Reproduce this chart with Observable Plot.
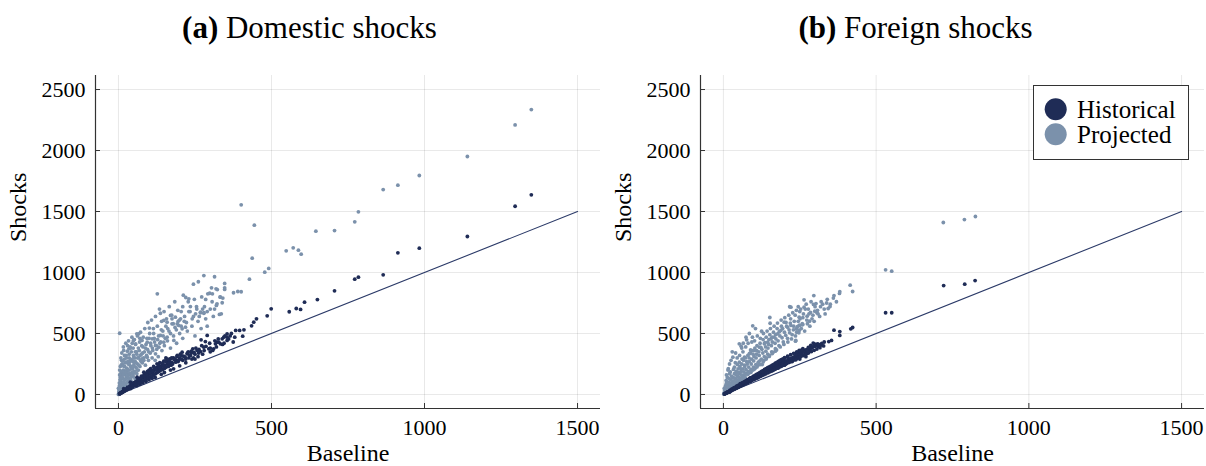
<!DOCTYPE html>
<html><head><meta charset="utf-8">
<script src="https://cdn.jsdelivr.net/npm/d3@7"></script>
<script src="https://cdn.jsdelivr.net/npm/@observablehq/plot@0.6"></script>
<style>
body{margin:0;background:#fff;}
#root{position:relative;width:1206px;height:466px;overflow:hidden;font-family:"Liberation Serif",serif;color:#000;}
.title{position:absolute;top:10px;width:603px;text-align:center;font-size:31px;white-space:nowrap;}
.panel{position:absolute;top:60px;}
#legend{position:absolute;left:1033px;top:85px;width:154px;height:73px;border:1px solid #333;background:#fff;}
</style></head><body>
<div id="root">
  <div class="title" style="left:0;padding-left:16px;box-sizing:border-box;"><b>(a)</b> Domestic shocks</div>
  <div class="title" style="left:603px;padding-left:22px;box-sizing:border-box;"><b>(b)</b> Foreign shocks</div>
  <div class="panel" id="pa" style="left:0"></div>
  <div class="panel" id="pb" style="left:603px"></div>
  <div id="legend"></div>
</div>
<script>
const seriesNames = ["Historical", "Projected"];
const histColor = "#1f2c56";
const projColor = "#7b91ab";
const xTicks = [0, 500, 1000, 1500];
const yTicks = [0, 500, 1000, 1500, 2000, 2500];
const xDomain = [-75, 1575];
const yDomain = [-115, 2615];
const diagX = [0, 1500];
const diagY = [0, 1500];

// (a) Domestic shocks — historical [baseline, shocks]
const domHist = [
[1349,1637],[1296,1543],[1140,1295],[983,1199],[913,1161],[865,981],[784,962],[772,945],[706,850],[650,778],
[608,757],[595,697],[581,705],[558,678],[499,702],[486,645],[451,620],[442,593],[435,563],[410,530],
[406,478],[396,525],[383,525],[355,497],[355,470],[355,443],[344,470],[339,456],[333,415],[328,429],
[322,429],[317,415],[311,374],[308,361],[295,374],[290,484],[284,434],[279,388],[270,448],[268,352],
[257,361],[243,374],[224,333],[208,347],[192,320],[170,293],[148,273],[126,251],[105,211],[83,183],
[61,142],[39,101],[17,47],
[230,300],[235,320],[240,290],[250,330],[260,310],[262,340],[275,330],[280,360],[300,380],[300,350],
[320,390],[340,410],[345,420],[360,455],[365,480],[375,430],[380,470],[200,300],[210,280],[215,310],
[190,280],[180,300],[175,260],[160,250],[165,280],[150,240],[155,300],[140,230],[135,260],[130,210],
[120,200],[115,230],[110,180],[100,170],[100,200],[95,190],[90,150],[85,165],[80,140],[75,150],
[70,120],[65,130],[60,110],[55,100],[50,85],[50,95],[45,80],[40,70],[35,60],[30,50],
[30,60],[25,40],[20,35],[15,25],[10,18],[8,12],[5,8],[3,5],[12,20],[22,38],
[28,48],[33,55],[42,75],[48,90],[52,80],[58,95],[62,105],[68,115],[72,130],[78,135],
[82,150],[88,160],[92,170],[98,165],[105,185],[112,195],[118,210],[125,220],[128,200],[132,240],
[138,225],[145,250],[152,230],[158,265],[168,270],[172,240],[185,290],[195,270],[205,320],[220,290],
[228,350],[238,340],[245,300],[100,120],[150,180],[200,235],[250,290],[120,140],[180,210],[60,72],
[40,48],[80,95],[140,165],[170,200],[220,260],[90,108],[110,132],[70,84],
[4,6],[6,10],[7,9],[9,14],[11,17],[13,18],[14,24],[16,22],[18,30],[19,27],
[21,36],[23,32],[24,42],[26,38],[27,46],[29,40],[31,54],[32,45],[34,58],[36,50],
[37,66],[39,55],[41,72],[43,60],[44,78],[46,64],[47,84],[49,70],[51,92],[53,74],
[54,98],[56,78],[57,104],[59,82],[63,114],[64,88],[66,120],[67,95],[71,126],[73,100],
[74,138],[76,105],[77,144],[79,110],[84,155],[86,118],[87,148],[89,125],[91,172],[93,130],
[94,158],[96,140],[101,185],[103,140],[104,176],[107,150],[109,200],[111,155],[113,190],[116,165],
[119,215],[121,170],[123,205],[127,180],[131,235],[133,190],[136,220],[139,200],[142,255],[144,205],
[147,235],[151,215],[153,275],[156,225],[161,290],[163,230],[166,255],[171,245],[174,300],[177,250],
[182,285],[187,265],[191,310],[197,280],[202,330],[206,290],[212,315],[218,305],[226,340],[232,320],
[238,355],[247,345],[253,380],[263,370],[272,400],[286,395],[298,420],[315,440],[326,455],[348,480],
[369,500]
];
// (a) Domestic shocks — projected
const domProj = [
[1349,2336],[1296,2210],[1140,1951],[983,1795],[913,1716],[865,1680],[784,1497],[772,1415],[706,1344],[645,1339],
[401,1555],[444,1388],[437,1117],[548,1178],[571,1202],[588,1183],[597,1150],[491,1033],[478,1003],[428,945],
[401,842],[390,844],[376,834],[347,910],[347,874],[347,861],[314,965],[279,975],[261,924],[245,904],
[304,874],[319,866],[292,825],[307,825],[333,798],[212,814],[220,795],[230,784],[127,825],[285,779],
[339,752],[322,743],[320,730],[341,790],[336,661],[330,656],[268,670],[279,670],
[235,721],[252,661],[268,675],[279,666],[137,666],[170,648],[186,634],[203,620],[192,579],[197,566],
[208,538],[219,552],[175,579],[159,593],[148,607],[101,544],[66,497],[137,484],[110,456],[94,429],
[77,443],[56,415],[34,374],[4,502],[12,251],[28,265],[50,265],[77,292],[94,306],[121,333],
[132,388],[148,429],[121,402],[159,470],[181,443],
[2,10],[3,30],[4,50],[5,80],[6,20],[8,60],[8,110],[10,40],[10,150],[12,90],
[12,180],[14,70],[15,130],[16,200],[18,50],[18,100],[20,160],[20,230],[22,80],[22,120],
[24,190],[25,60],[26,140],[28,210],[30,100],[30,170],[32,250],[34,130],[35,200],[36,80],
[38,160],[40,230],[40,120],[42,280],[44,180],[45,100],[46,210],[48,150],[50,300],[50,240],
[52,190],[54,130],[55,270],[58,220],[60,170],[60,330],[62,250],[65,200],[66,300],[68,360],
[70,230],[72,280],[75,330],[78,260],[80,390],[82,300],[85,350],[88,240],[90,410],[92,320],
[95,370],[98,280],[100,460],[104,340],[106,400],[110,300],[112,360],[115,500],[118,430],[120,280],
[125,370],[128,450],[130,310],[135,420],[140,530],[142,360],[146,480],[150,400],[155,560],[160,440],
[165,520],[170,380],[175,620],[180,480],[185,550],[190,420],[195,600],[200,500],[205,680],[210,460],
[215,600],[225,520],[230,680],[240,560],[245,640],[250,480],[255,720],[260,600],[270,540],[275,700],
[285,620],[290,560],[300,700],[310,640],[1,5],[2,40],[3,70],[1,20],[0,0],[5,120],
[7,170],[4,200],[9,240],[0,50],[17,361],[30,400],[49,443],[60,497],[40,380],[25,320],
[10,280],[45,420],[70,460],[35,300],[55,350],[20,290],[6,140],[14,240],[26,190],[38,270],
[2,15],[3,95],[4,160],[5,45],[6,230],[7,120],[8,300],[9,75],[10,190],[11,340],
[12,140],[13,60],[14,275],[15,95],[16,390],[17,165],[18,230],[19,120],[20,320],[21,75],
[22,260],[23,180],[24,420],[25,130],[26,300],[27,215],[28,95],[29,355],[30,150],[31,270],
[32,200],[33,440],[34,115],[35,330],[36,245],[37,170],[38,390],[39,290],[41,140],[42,350],
[43,210],[44,470],[46,275],[47,165],[48,380],[49,320],[51,230],[52,450],[53,180],[54,300],
[56,410],[57,260],[59,350],[61,200],[62,480],[63,300],[65,380],[67,240],[69,430],[71,320],
[72,510],[74,270],[76,400],[79,340],[81,470],[83,280],[86,540],[88,380],[91,310],[93,460],
[96,590],[99,350],[102,500],[105,420],[108,610],[111,380],[114,540],[117,460],[121,640],[124,400],
[127,560],[131,480],[134,700],[138,430],[141,600],[145,520],[149,680],[153,460],[157,620],[161,540],
[166,720],[170,500],[174,650],[179,580],[184,760],[189,530],[194,690],[199,610],[205,560],[210,720],
[216,640],[222,590],[228,760],[234,680],[241,620],[248,780],[256,700],[264,640],[272,800],[281,720],
[290,680],[298,830],[306,760],[314,700],[323,860],[332,800]
];
// (b) Foreign shocks — historical
const forHist = [
[721,893],[790,904],[824,934],[531,670],[551,670],[417,538],[423,549],[381,516],[381,484],[362,527],
[354,443],[345,434],[308,415],[300,410],[294,421],[286,402],[282,374],[273,339],[264,355],[254,361],
[248,347],[243,339],[237,284],[281,361],[276,339],[264,361],[248,361],[238,339],[221,293],[210,306],
[199,279],[188,265],[178,251],[166,238],[156,224],[145,197],[134,183],[123,170],[112,156],[101,142],
[85,120],[69,101],[52,74],[36,47],[20,19],
[230,300],[225,270],[215,280],[205,260],[200,240],[195,265],[185,240],[180,220],[175,230],[170,210],
[165,225],[160,200],[155,205],[150,190],[148,215],[140,180],[138,200],[130,165],[128,185],[120,150],
[118,172],[110,140],[108,160],[100,125],[98,148],[95,130],[90,115],[88,135],[80,100],[78,118],
[75,95],[72,110],[65,85],[62,95],[58,75],[55,88],[50,65],[48,75],[45,58],[42,66],
[38,50],[35,55],[30,40],[28,45],[25,33],[22,35],[18,24],[15,22],[12,16],[10,14],
[8,11],[5,7],[3,4],[255,330],[260,320],[268,345],[270,310],[245,320],[240,300],[250,290],
[235,310],[228,285],[190,250],[212,268],[162,212],[142,190],[125,160],[105,135],[92,122],[68,90],
[40,55],[32,42],[270,365],[290,380],[300,395],[310,395],[320,405],[330,430],[260,375],
[4,5],[6,8],[7,9],[9,12],[11,13],[13,17],[14,19],[16,20],[17,23],[19,25],
[21,27],[23,31],[24,29],[26,35],[27,33],[29,38],[31,41],[33,40],[34,46],[37,45],
[39,52],[41,50],[43,59],[44,53],[46,62],[49,60],[51,70],[53,66],[54,72],[57,70],
[59,80],[61,76],[63,85],[64,78],[66,90],[69,86],[71,96],[73,90],[76,102],[79,96],
[81,110],[83,104],[86,115],[89,108],[91,124],[93,116],[96,128],[99,121],[102,138],[104,128],
[107,145],[111,135],[113,152],[116,142],[119,160],[122,150],[124,168],[127,156],[131,176],[133,162],
[136,184],[139,170],[143,193],[146,178],[149,200],[152,186],[154,210],[158,192],[161,218],[163,198],
[167,226],[169,206],[172,232],[177,216],[179,242],[182,222],[186,250],[189,230],[192,258],[194,238],
[197,266],[202,246],[204,274],[207,254],[211,282],[214,262],[217,290],[219,268],[222,298],[226,276],
[229,306],[232,284],[236,316],[239,292],[242,324],[246,302],[249,332],[252,310],[256,342],[259,318],
[263,350],[266,326],[272,334],[275,368],[279,342],[284,376],[288,352],[292,390],[297,362],[302,400],
[306,372],[312,410],[316,384],[322,418],[328,398],
[60,90],[70,105],[80,121],[90,136],[100,151],[110,167],[120,181],[130,196],[140,211],[150,226],
[160,241],[170,256],[180,271],[190,286],[200,301],[210,314],[220,326],[230,337],[240,348],[250,357],
[195,291],[175,263],[155,233],[135,205],[115,173],[95,143],[75,113],[55,83],[35,53],[185,279],
[165,247],[145,219],[125,189],[105,159],[85,129],[65,99],[45,69],[258,365],[278,385],[298,412]
];
// (b) Foreign shocks — projected
const forProj = [
[720,1410],[789,1434],[825,1459],[531,1022],[551,1011],[415,896],[423,844],[381,842],[380,828],[362,811],
[349,721],[343,705],[306,670],[299,683],[296,811],[295,738],[285,672],[274,642],[282,601],[264,716],
[245,719],[217,719],[258,571],[248,566],[240,538],[237,443],[152,631],[153,584],[125,519],[96,563],
[76,448],[58,396],[29,350],[16,211],[199,593],[210,552],[188,525],[178,498],[166,470],[156,457],
[145,429],[134,416],[118,388],[101,361],[85,334],[69,306],[52,265],[36,224],[20,170],[9,115],
[264,776],[248,634],[260,574],[249,566],[238,538],[248,525],[236,437],[221,716],[221,566],
[5,20],[8,40],[10,60],[12,30],[14,80],[15,50],[18,100],[20,40],[22,70],[24,120],
[25,55],[28,90],[30,140],[32,70],[34,110],[36,170],[38,85],[40,130],[42,190],[44,100],
[46,150],[48,210],[50,115],[52,170],[54,230],[56,130],[58,190],[60,250],[62,145],[64,210],
[66,280],[68,160],[70,230],[72,300],[75,175],[78,250],[80,320],[82,190],[85,270],[88,340],
[90,205],[92,290],[95,360],[98,225],[100,310],[103,380],[106,245],[108,330],[110,400],[114,265],
[116,350],[120,420],[124,290],[126,370],[130,450],[134,310],[138,390],[140,470],[145,330],[148,410],
[152,490],[158,350],[160,430],[164,510],[170,375],[172,455],[176,540],[182,400],[185,480],[190,560],
[196,430],[200,510],[205,590],[210,460],[215,530],[220,620],[225,490],[230,560],[235,650],[240,510],
[245,600],[250,680],[255,540],[260,630],[268,700],[275,580],[280,660],[290,620],[300,720],[310,660],
[320,760],[330,700],[340,780],[350,740],[360,790],[370,760],[2,10],[4,30],[6,15],[3,50],
[7,70],[11,100],[1,3],[20,250],[25,280],[31,306],[40,340],[52,415],[60,380],[74,470],
[15,200],[10,160],[45,300],[65,420],[85,500],[95,470],[105,540],
[3,12],[4,38],[6,55],[7,22],[9,85],[11,45],[13,140],[14,62],[16,95],[17,35],
[19,130],[21,58],[23,185],[24,88],[26,42],[27,150],[29,110],[31,75],[33,205],[34,52],
[35,135],[37,100],[39,260],[41,165],[43,78],[44,120],[46,245],[47,95],[49,180],[51,140],
[53,320],[55,105],[57,210],[59,160],[61,290],[63,125],[64,350],[67,185],[69,240],[71,140],
[73,390],[74,205],[76,270],[79,165],[81,420],[83,225],[84,300],[87,180],[89,365],[91,250],
[93,430],[96,200],[97,330],[99,275],[102,440],[104,215],[107,300],[109,360],[111,480],[113,240],
[117,320],[119,275],[121,460],[123,385],[127,245],[129,340],[131,500],[133,280],[136,425],[139,355],
[141,300],[143,520],[146,380],[149,450],[151,320],[154,540],[157,400],[159,470],[162,345],[166,560],
[169,420],[171,490],[174,365],[177,585],[179,440],[183,515],[186,390],[189,610],[192,465],[194,540],
[198,410],[201,630],[204,485],[207,560],[211,430],[214,650],[217,505],[219,585],[223,455],[227,670],
[229,530],[232,600],[236,480],[239,690],[242,555],[247,505],[251,620],[253,700],[258,580],[262,660],
[266,520],[271,740],[273,610],[278,700],[283,560],[287,760],[293,650],[297,600],[303,745],[308,690],
[315,640],[318,720],[325,740],[333,660],[338,750],
[60,125],[80,165],[100,205],[120,245],[140,290],[90,182],[110,226],[130,267],[70,142],[50,102],
[40,84],[150,312],[160,335],[170,355],[30,64],[20,44]
];

const toObj = arr => arr.map(([x, y]) => ({x, y}));
const diag = diagX.map((x, i) => ({x, y: diagY[i]}));

function panel(hist, proj, ml, mr) {
  return Plot.plot({
    width: 603, height: 406,
    marginLeft: ml, marginRight: mr, marginTop: 15, marginBottom: 58,
    x: {domain: xDomain},
    y: {domain: yDomain},
    style: {fontFamily: '"Liberation Serif", serif', fontSize: "22px", color: "#000", background: "transparent", overflow: "visible"},
    marks: [
      Plot.gridX(xTicks, {stroke: "#000", strokeOpacity: 0.09}),
      Plot.gridY(yTicks, {stroke: "#000", strokeOpacity: 0.09}),
      Plot.line(diag, {x: "x", y: "y", stroke: "#2b3a68", strokeWidth: 1.1}),
      Plot.dot(toObj(proj), {x: "x", y: "y", r: 1.9, fill: projColor}),
      Plot.dot(toObj(hist), {x: "x", y: "y", r: 1.9, fill: histColor}),
      Plot.tickY(yTicks, {y: d => d, insetRight: 600 - ml - mr - 2, stroke: "#333"}),
      Plot.tickX(xTicks, {x: d => d, insetTop: 328, stroke: "#333"}),
      Plot.ruleX([xDomain[0]], {stroke: "#333", strokeWidth: 1.2}),
      Plot.ruleY([yDomain[0]], {stroke: "#333", strokeWidth: 1.2}),
      Plot.axisY(yTicks, {tickSize: 0, tickPadding: 10, label: null, tickFormat: d => String(d), fontSize: 22}),
      Plot.axisX(xTicks, {tickSize: 0, tickPadding: 11, label: null, tickFormat: d => String(d), fontSize: 22}),
      Plot.text(["Shocks"], {text: d => d, frameAnchor: "left", dx: -77, rotate: -90, fontSize: 24}),
      Plot.text(["Baseline"], {text: d => d, frameAnchor: "bottom", dy: 52, fontSize: 24})
    ]
  });
}

document.getElementById("pa").append(panel(domHist, domProj, 95, 3));
document.getElementById("pb").append(panel(forHist, forProj, 97, 2));

// legend
const ns = "http://www.w3.org/2000/svg";
const lg = document.createElementNS(ns, "svg");
lg.setAttribute("width", 154); lg.setAttribute("height", 73);
lg.style.display = "block";
const colors = [histColor, projColor];
seriesNames.forEach((name, i) => {
  const c = document.createElementNS(ns, "circle");
  c.setAttribute("cx", 21.7); c.setAttribute("cy", 23.3 + i * 25);
  c.setAttribute("r", 11); c.setAttribute("fill", colors[i]);
  lg.append(c);
  const t = document.createElementNS(ns, "text");
  t.setAttribute("x", 43); t.setAttribute("y", 32.3 + i * 24.4);
  t.setAttribute("font-family", '"Liberation Serif", serif');
  t.setAttribute("font-size", 25);
  t.textContent = name;
  lg.append(t);
});
document.getElementById("legend").append(lg);
</script>
</body></html>
